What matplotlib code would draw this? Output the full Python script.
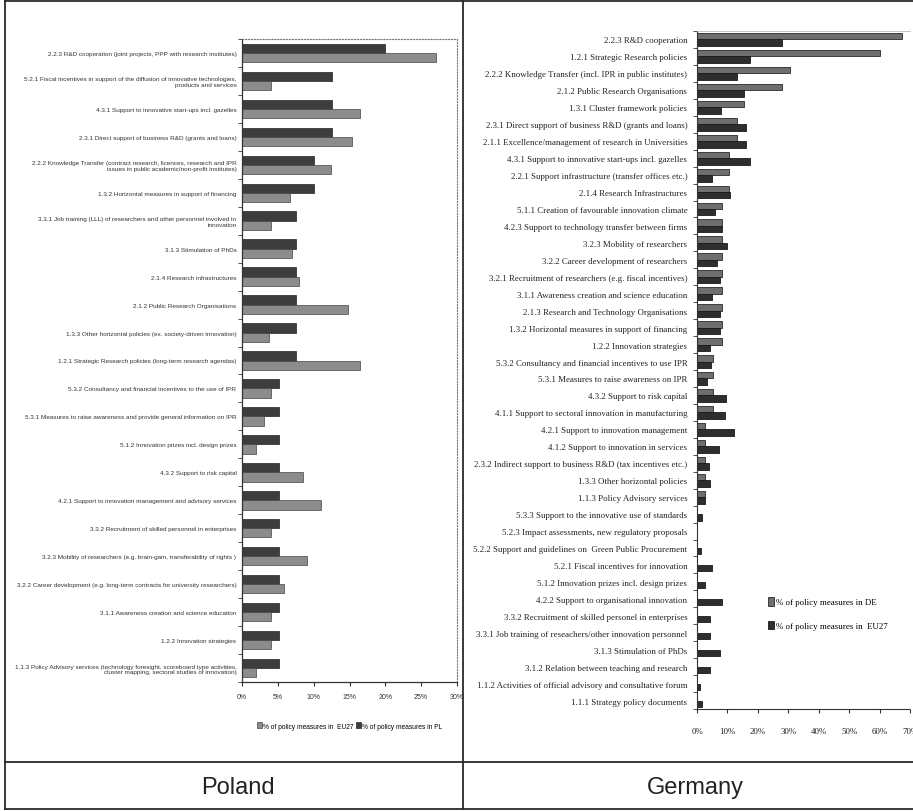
import matplotlib
matplotlib.use("Agg")
import matplotlib.pyplot as plt
from matplotlib.lines import Line2D
import numpy as np

# ---------------- Poland data ----------------
pl_categories = [
    "2.2.3 R&D cooperation (joint projects, PPP with research institutes)",
    "5.2.1 Fiscal incentives in support of the diffusion of innovative technologies,\nproducts and services",
    "4.3.1 Support to innovative start-ups incl. gazelles",
    "2.3.1 Direct support of business R&D (grants and loans)",
    "2.2.2 Knowledge Transfer (contract research, licences, research and IPR\nissues in public academic/non-profit institutes)",
    "1.3.2 Horizontal measures in support of financing",
    "3.3.1 Job training (LLL) of researchers and other personnel involved in\ninnovation",
    "3.1.3 Stimulation of PhDs",
    "2.1.4 Research infrastructures",
    "2.1.2 Public Research Organisations",
    "1.3.3 Other horizontal policies (ex. society-driven innovation)",
    "1.2.1 Strategic Research policies (long-term research agendas)",
    "5.3.2 Consultancy and financial incentives to the use of IPR",
    "5.3.1 Measures to raise awareness and provide general information on IPR",
    "5.1.2 Innovation prizes incl. design prizes",
    "4.3.2 Support to risk capital",
    "4.2.1 Support to innovation management and advisory services",
    "3.3.2 Recruitment of skilled personnel in enterprises",
    "3.2.3 Mobility of researchers (e.g. brain-gain, transferability of rights )",
    "3.2.2 Career development (e.g. long-term contracts for university researchers)",
    "3.1.1 Awareness creation and science education",
    "1.2.2 Innovation strategies",
    "1.1.3 Policy Advisory services (technology foresight, scoreboard type activities,\ncluster mapping, sectoral studies of innovation)",
]
pl_values_pl = [20.0, 12.6, 12.6, 12.6, 10.1, 10.1, 7.6, 7.6, 7.6, 7.6, 7.6, 7.6,
                5.2, 5.2, 5.2, 5.2, 5.2, 5.2, 5.2, 5.2, 5.2, 5.2, 5.2]
pl_values_eu = [27.0, 4.1, 16.5, 15.4, 12.4, 6.7, 4.0, 7.0, 8.0, 14.8, 3.7, 16.5,
                4.1, 3.1, 2.0, 8.5, 11.0, 4.1, 9.0, 5.9, 4.1, 4.0, 2.0]
pl_xticks = [0, 5, 10, 15, 20, 25, 30]
pl_xticklabels = ["0%", "5%", "10%", "15%", "20%", "25%", "30%"]

# ---------------- Germany data ----------------
de_categories = [
    "2.2.3 R&D cooperation",
    "1.2.1 Strategic Research policies",
    "2.2.2 Knowledge Transfer (incl. IPR in public institutes)",
    "2.1.2 Public Research Organisations",
    "1.3.1 Cluster framework policies",
    "2.3.1 Direct support of business R&D (grants and loans)",
    "2.1.1 Excellence/management of research in Universities",
    "4.3.1 Support to innovative start-ups incl. gazelles",
    "2.2.1 Support infrastructure (transfer offices etc.)",
    "2.1.4 Research Infrastructures",
    "5.1.1 Creation of favourable innovation climate",
    "4.2.3 Support to technology transfer between firms",
    "3.2.3 Mobility of researchers",
    "3.2.2 Career development of researchers",
    "3.2.1 Recruitment of researchers (e.g. fiscal incentives)",
    "3.1.1 Awareness creation and science education",
    "2.1.3 Research and Technology Organisations",
    "1.3.2 Horizontal measures in support of financing",
    "1.2.2 Innovation strategies",
    "5.3.2 Consultancy and financial incentives to use IPR",
    "5.3.1 Measures to raise awareness on IPR",
    "4.3.2 Support to risk capital",
    "4.1.1 Support to sectoral innovation in manufacturing",
    "4.2.1 Support to innovation management",
    "4.1.2 Support to innovation in services",
    "2.3.2 Indirect support to business R&D (tax incentives etc.)",
    "1.3.3 Other horizontal policies",
    "1.1.3 Policy Advisory services",
    "5.3.3 Support to the innovative use of standards",
    "5.2.3 Impact assessments, new regulatory proposals",
    "5.2.2 Support and guidelines on  Green Public Procurement",
    "5.2.1 Fiscal incentives for innovation",
    "5.1.2 Innovation prizes incl. design prizes",
    "4.2.2 Support to organisational innovation",
    "3.3.2 Recruitment of skilled personel in enterprises",
    "3.3.1 Job training of reseachers/other innovation personnel",
    "3.1.3 Stimulation of PhDs",
    "3.1.2 Relation between teaching and research",
    "1.1.2 Activities of official advisory and consultative forum",
    "1.1.1 Strategy policy documents",
]
de_values_de = [67.5, 60.0, 30.5, 28.0, 15.4, 13.0, 13.0, 10.5, 10.5, 10.5,
                8.2, 8.2, 8.2, 8.2, 8.2, 8.2, 8.2, 8.2, 8.2, 5.4,
                5.4, 5.4, 5.4, 2.6, 2.6, 2.6, 2.6, 2.6, 0.0, 0.0,
                0.0, 0.0, 0.0, 0.0, 0.0, 0.0, 0.0, 0.0, 0.0, 0.0]
de_values_eu = [28.0, 17.3, 13.2, 15.4, 8.0, 16.2, 16.0, 17.3, 5.0, 10.7,
                5.8, 8.2, 9.8, 6.6, 7.7, 5.0, 7.4, 7.7, 4.4, 4.7,
                3.3, 9.4, 9.1, 12.0, 7.2, 3.9, 4.4, 2.5, 1.7, 0.0,
                1.4, 4.9, 2.5, 8.3, 4.4, 4.4, 7.7, 4.2, 1.1, 1.7]
de_xticks = [0, 10, 20, 30, 40, 50, 60, 70]
de_xticklabels = ["0%", "10%", "20%", "30%", "40%", "50%", "60%", "70%"]

W, H = 913, 812
fig = plt.figure(figsize=(W / 100, H / 100), dpi=100)
fig.patch.set_facecolor("white")

SANS = ["Liberation Sans", "DejaVu Sans"]
SERIF = ["Liberation Serif", "DejaVu Serif"]


def fr(x0, y0, x1, y1):
    return [x0 / W, 1 - y1 / H, (x1 - x0) / W, (y1 - y0) / H]


# ---------------- Poland axes ----------------
axp = fig.add_axes(fr(242, 40, 457, 683))
n = len(pl_categories)
y = np.arange(n)
h = 0.33
axp.barh(y - h / 2, pl_values_pl, height=h, color="#3d3d3d", edgecolor="#222222",
         linewidth=0.5, label="% of policy measures in PL")
axp.barh(y + h / 2, pl_values_eu, height=h, color="#8c8c8c", edgecolor="#444444",
         linewidth=0.5, label="% of policy measures in  EU27")
axp.set_xlim(0, 30)
axp.set_ylim(n - 0.5, -0.5)
axp.set_yticks(y)
axp.set_yticklabels(pl_categories, family=SANS, fontsize=4.6, color="#333333",
                    linespacing=1.2)
axp.set_yticks(np.arange(-0.5, n, 1.0), minor=True)
axp.tick_params(axis="y", which="major", length=0, pad=4)
axp.tick_params(axis="y", which="minor", length=3, direction="out", color="#333333")
axp.set_xticks(pl_xticks)
axp.set_xticklabels(pl_xticklabels, family=SANS, fontsize=5.0, color="#333333")
axp.tick_params(axis="x", length=3, direction="out", pad=5, color="#333333")
for s in ("top", "right"):
    axp.spines[s].set_linestyle(":")
    axp.spines[s].set_color("#777777")
    axp.spines[s].set_linewidth(0.8)
for s in ("left", "bottom"):
    axp.spines[s].set_color("#333333")
    axp.spines[s].set_linewidth(0.9)
hp, lp = axp.get_legend_handles_labels()
fig.legend([hp[1], hp[0]], [lp[1], lp[0]], loc="center",
           bbox_to_anchor=(350 / W, 1 - 727 / H), ncol=2, frameon=False,
           prop={"family": SANS, "size": 4.8}, handlelength=0.7,
           handleheight=0.9, handletextpad=0.2, columnspacing=0.4)

# ---------------- Germany axes ----------------
axd = fig.add_axes(fr(697, 32, 910, 710))
m = len(de_categories)
yd = np.arange(m)
hd = 0.38
axd.barh(yd - hd / 2, de_values_de, height=hd, color="#6e6e6e", edgecolor="#2a2a2a",
         linewidth=0.6, label="% of policy measures in DE")
axd.barh(yd + hd / 2, de_values_eu, height=hd, color="#2e2e2e", edgecolor="#1a1a1a",
         linewidth=0.6, label="% of policy measures in  EU27")
axd.set_xlim(0, 70)
axd.set_ylim(m - 0.5, -0.5)
axd.set_yticks(yd)
axd.set_yticklabels(de_categories, family=SERIF, fontsize=6.4, color="#222222")
axd.set_yticks(np.arange(-0.5, m, 1.0), minor=True)
axd.tick_params(axis="y", which="major", length=0, pad=7)
axd.tick_params(axis="y", which="minor", length=3, direction="out", color="#333333")
axd.set_xticks(de_xticks)
axd.set_xticklabels(de_xticklabels, family=SERIF, fontsize=6.4, color="#222222")
axd.tick_params(axis="x", length=3, direction="out", pad=10, color="#333333")
axd.spines["right"].set_visible(False)
axd.spines["top"].set_color("#bbbbbb")
axd.spines["top"].set_linewidth(0.6)
axd.spines["left"].set_color("#333333")
axd.spines["bottom"].set_color("#333333")
axd.spines["bottom"].set_linestyle((0, (2, 1)))
fig.legend(*axd.get_legend_handles_labels(), loc="upper left",
           bbox_to_anchor=(760 / W, 1 - 590 / H), ncol=1, frameon=False,
           prop={"family": SERIF, "size": 6.4}, handlelength=0.7,
           handleheight=1.1, handletextpad=0.2, labelspacing=1.6)

# ---------------- frame and titles ----------------
lc = "#2a2a2a"
for (x0, y0, x1, y1) in [(5, 2, 913, 2), (5, 2, 5, 810), (463, 2, 463, 810),
                         (5, 763, 913, 763), (5, 810, 913, 810)]:
    fig.add_artist(Line2D([x0 / W, x1 / W], [1 - y0 / H, 1 - y1 / H],
                          transform=fig.transFigure, color=lc, linewidth=1.3))

fig.text(238 / W, 1 - 788 / H, "Poland", ha="center", va="center",
         fontsize=17, family=SANS, color="#222222")
fig.text(695 / W, 1 - 788 / H, "Germany", ha="center", va="center",
         fontsize=17, family=SANS, color="#222222")

fig.savefig("out.png", dpi=100, facecolor="white")
